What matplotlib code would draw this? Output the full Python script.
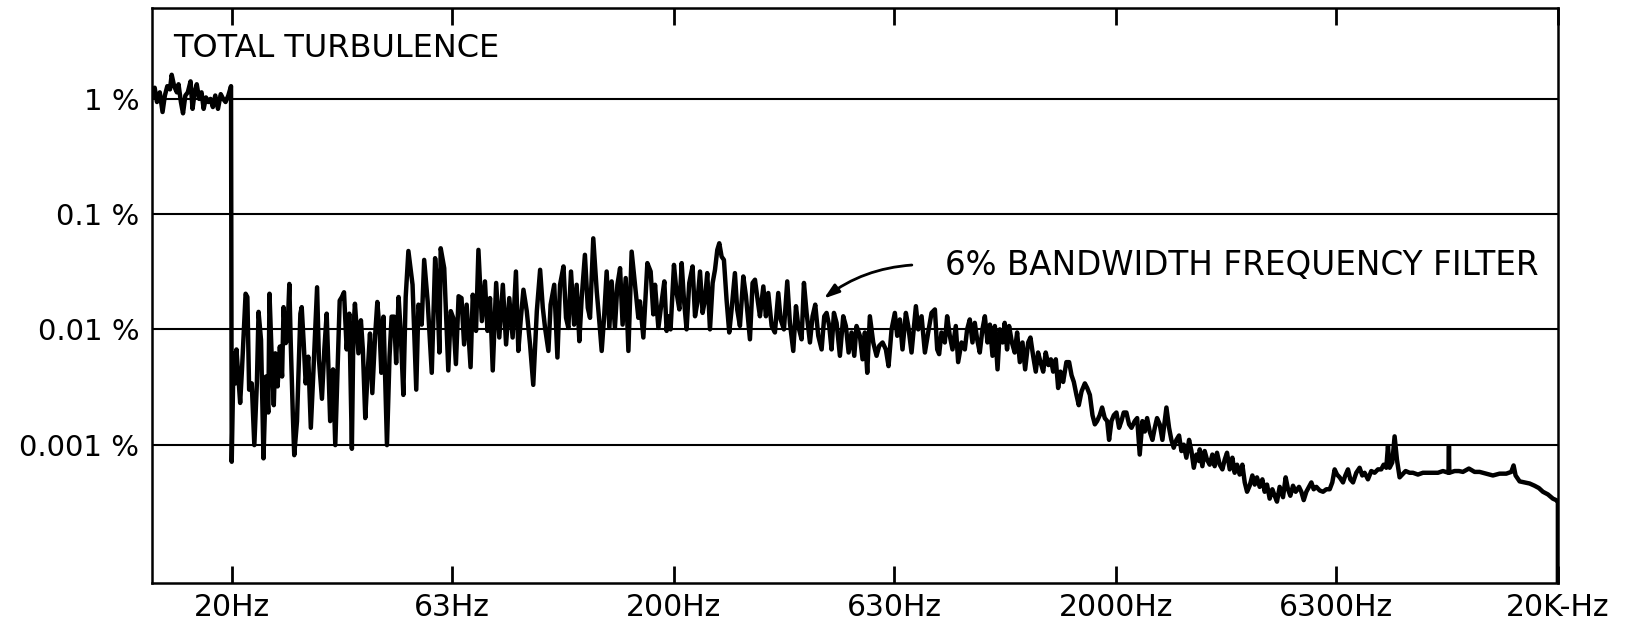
import matplotlib.pyplot as plt
import numpy as np
from matplotlib.ticker import NullLocator

# total turbulence (unfiltered) trace
total_freq = [13.22, 13.39, 13.55, 13.75, 13.95, 14.12, 14.30, 14.50, 14.63, 14.82,
              15.03, 15.16, 15.35, 15.52, 15.71, 15.91, 16.14, 16.31, 16.49, 16.67,
              16.88, 17.09, 17.28, 17.49, 17.71, 17.91, 18.13, 18.36, 18.62, 18.89,
              19.13, 19.37, 19.65, 19.93]
total_pct = [1.07, 1.25, 0.94, 1.14, 0.77, 1.07, 1.29, 1.21, 1.62, 1.29,
             1.14, 1.34, 0.94, 0.75, 1.07, 1.14, 1.42, 0.82, 1.14, 1.34,
             1.00, 1.14, 0.82, 1.03, 0.94, 1.00, 0.85, 1.07, 0.82, 1.10,
             1.00, 0.94, 1.07, 1.29]

# 6% bandwidth filter sweep, one pair of lists per stretch of the chart
band1_freq = [20.0, 20.2, 20.4, 20.5, 20.9, 21.1, 21.5, 21.7, 21.9, 22.2,
              22.5, 22.8, 23.0, 23.3, 23.6, 23.9, 24.2, 24.35, 24.6, 24.9,
              25.1, 25.4, 25.7, 26.0, 26.2, 26.5, 26.7, 27.0, 27.2, 27.5,
              27.7, 28.1, 28.3, 28.6, 28.8, 29.1, 29.4, 29.8, 30.2, 30.6,
              31.2, 31.5, 32.0, 32.4, 32.8, 33.1, 33.4, 33.9, 34.3, 34.7,
              35.1, 35.5, 35.9, 36.4, 36.9, 37.4, 37.7, 38.0, 38.7, 39.2,
              39.6, 40.1, 40.6, 41.1, 41.6, 42.2, 42.7, 43.2, 43.6, 44.1,
              44.9, 45.5, 46.0, 46.6, 47.1, 47.7, 48.2, 48.9, 49.5, 50.2]
band1_pct = [0.00071, 0.0062, 0.0034, 0.0067, 0.0023, 0.0045, 0.0204, 0.0191, 0.0030, 0.0034,
             0.00099, 0.0034, 0.0142, 0.0081, 0.00076, 0.0039, 0.0019, 0.0204, 0.0067, 0.0022,
             0.0062, 0.0032, 0.0071, 0.0039, 0.0156, 0.0076, 0.0081, 0.0248, 0.0076, 0.0018,
             0.00081, 0.0016, 0.0039, 0.0137, 0.0156, 0.0076, 0.0034, 0.0058, 0.0014, 0.0042,
             0.0232, 0.0055, 0.0025, 0.0067, 0.0137, 0.0045, 0.0016, 0.0045, 0.00099, 0.0042,
             0.0178, 0.0191, 0.0210, 0.0067, 0.0137, 0.00092, 0.0099, 0.0167, 0.0062, 0.0120,
             0.0067, 0.0017, 0.0042, 0.0092, 0.0028, 0.0087, 0.0173, 0.0099, 0.0042, 0.0129,
             0.00099, 0.0058, 0.0129, 0.0129, 0.0051, 0.0191, 0.0099, 0.0027, 0.0191, 0.0479]

band2_freq = [51.3, 52.3, 52.9, 53.8, 54.5, 55.5, 56.7, 57.7, 58.3, 59.0,
              59.4, 60.5, 61.8, 62.6, 63.4, 64.3, 65.2, 66.2, 67.1, 68.0,
              69.4, 70.2, 71.4, 72.3, 73.6, 74.8, 75.8, 76.8, 77.9, 79.3,
              80.6, 82.1, 83.5, 84.9, 86.4, 87.9, 89.0, 90.2, 91.4, 93.0,
              94.6, 96.2, 98.0, 99.7, 101.1, 102.3, 104.1, 105.3, 107.3, 109.1,
              110.6, 112.6, 114.1, 115.5, 117.1, 119.0, 120.6, 122.3, 123.8, 125.9,
              127.8, 129.3, 131.5, 133.9, 135.7, 137.4, 139.1, 141.0, 143.0, 144.7,
              147.2, 149.1, 151.2, 153.2, 155.7, 157.9, 160.6, 163.4, 166.3, 167.7,
              170.7, 174.3, 177.3, 179.8, 181.4, 184.6, 187.8, 190.4, 192.7]
band2_pct = [0.0244, 0.0030, 0.0164, 0.0110, 0.0401, 0.0175, 0.0042, 0.0415, 0.0244, 0.0063,
             0.0506, 0.0340, 0.0044, 0.0144, 0.0126, 0.0050, 0.0194, 0.0187, 0.0074, 0.0164,
             0.0047, 0.0200, 0.0097, 0.0490, 0.0118, 0.0261, 0.0097, 0.0187, 0.0044, 0.0253,
             0.0085, 0.0244, 0.0074, 0.0187, 0.0085, 0.0318, 0.0065, 0.0126, 0.0221, 0.0144,
             0.0074, 0.0033, 0.0144, 0.0329, 0.0154, 0.0103, 0.0065, 0.0164, 0.0244, 0.0057,
             0.0244, 0.0352, 0.0126, 0.0103, 0.0318, 0.0110, 0.0244, 0.0079, 0.0187, 0.0444,
             0.0154, 0.0126, 0.0617, 0.0214, 0.0118, 0.0065, 0.0126, 0.0318, 0.0103, 0.0261,
             0.0103, 0.0244, 0.0340, 0.0110, 0.0279, 0.0065, 0.0473, 0.0244, 0.0126, 0.0175,
             0.0085, 0.0376, 0.0318, 0.0135, 0.0244, 0.0103, 0.0175, 0.0261, 0.0097]

band3_freq = [194.4, 196.7, 200.2, 203.0, 205.9, 208.4, 210.9, 213.8, 216.8, 220.6,
              223.4, 226.1, 229.3, 232.4, 235.3, 238.1, 241.5, 244.9, 247.9, 250.9,
              253.5, 256.6, 259.7, 263.3, 267.0, 270.3, 275.0, 278.3, 282.3, 287.3,
              291.3, 297.4, 301.5, 305.3, 309.5, 313.3, 318.9, 323.2, 327.2, 333.0,
              338.7, 344.7, 348.9, 355.0, 361.2, 366.2, 372.7, 378.0, 382.5, 389.2,
              394.0, 399.5, 406.5, 412.1, 417.9, 424.5, 432.0, 438.0, 443.3, 449.5,
              454.9, 460.6, 467.0, 475.2, 483.5, 490.2, 497.2, 504.9, 512.1, 518.2,
              527.3, 534.7, 541.2, 547.9, 555.4, 565.2, 575.1, 583.2, 593.4, 603.7,
              612.2, 621.9, 632.6, 640.5, 649.4, 658.3, 670.0, 678.3, 690.1, 705.9,
              714.5, 727.1, 739.8, 752.6, 765.8, 779.3, 788.8]
band3_pct = [0.0130, 0.0100, 0.0363, 0.0207, 0.0149, 0.0376, 0.0181, 0.0100, 0.0253, 0.0352,
             0.0130, 0.0170, 0.0318, 0.0139, 0.0181, 0.0308, 0.0100, 0.0253, 0.0329, 0.0490,
             0.0559, 0.0428, 0.0401, 0.0181, 0.0094, 0.0149, 0.0308, 0.0149, 0.0107, 0.0288,
             0.0194, 0.0082, 0.0253, 0.0270, 0.0181, 0.0130, 0.0236, 0.0130, 0.0207, 0.0107,
             0.0094, 0.0207, 0.0122, 0.0100, 0.0261, 0.0114, 0.0065, 0.0159, 0.0107, 0.0082,
             0.0253, 0.0139, 0.0077, 0.0130, 0.0164, 0.0088, 0.0067, 0.0130, 0.0139, 0.0107,
             0.0067, 0.0139, 0.0114, 0.0059, 0.0130, 0.0107, 0.0063, 0.0094, 0.0059, 0.0107,
             0.0088, 0.0055, 0.0094, 0.0042, 0.0130, 0.0077, 0.0059, 0.0072, 0.0077, 0.0067,
             0.0048, 0.0100, 0.0139, 0.0088, 0.0122, 0.0067, 0.0139, 0.0107, 0.0063, 0.0159,
             0.0100, 0.0130, 0.0063, 0.0094, 0.0139, 0.0149, 0.0067]

band4_freq = [796.8, 806.5, 820.6, 830.7, 842.3, 854.1, 869.0, 879.7, 895.1, 910.8,
              921.8, 934.7, 947.8, 959.3, 971.2, 984.6, 998.3, 1011, 1025, 1038,
              1052, 1065, 1080, 1093, 1109, 1121, 1135, 1147, 1164, 1181,
              1196, 1213, 1230, 1247, 1267, 1282, 1300, 1318, 1334, 1351,
              1370, 1388, 1408, 1426, 1443, 1463, 1481, 1499, 1520, 1546,
              1568, 1588, 1607, 1629, 1649, 1673, 1702, 1723, 1747, 1771,
              1793, 1814, 1839, 1862, 1888, 1912, 1931, 1955, 1979, 2006,
              2034, 2059, 2084, 2113, 2143, 2170, 2207, 2235, 2265, 2297,
              2326, 2354, 2386, 2420, 2450, 2479, 2514, 2549, 2580, 2603,
              2639, 2671, 2704, 2742, 2780, 2815, 2849, 2888, 2929, 2965,
              3002, 3043, 3086]
band4_pct = [0.0061, 0.0094, 0.0077, 0.0130, 0.0088, 0.0067, 0.0107, 0.0052, 0.0077, 0.0067,
             0.0100, 0.0122, 0.0077, 0.0114, 0.0082, 0.0063, 0.0100, 0.0130, 0.0077, 0.0110,
             0.0059, 0.0107, 0.0045, 0.0100, 0.0077, 0.0114, 0.0067, 0.0107, 0.0077, 0.0063,
             0.0094, 0.0052, 0.0077, 0.0045, 0.0077, 0.0085, 0.0059, 0.0043, 0.0063, 0.0052,
             0.0043, 0.0063, 0.0049, 0.0055, 0.0043, 0.0055, 0.0031, 0.0043, 0.0035, 0.0052,
             0.0052, 0.0040, 0.0035, 0.0027, 0.0022, 0.0029, 0.0034, 0.0031, 0.0027, 0.0018,
             0.0015, 0.0016, 0.0018, 0.0021, 0.0017, 0.0016, 0.0011, 0.0016, 0.0018, 0.0019,
             0.0014, 0.0016, 0.0019, 0.0019, 0.0015, 0.0014, 0.0016, 0.0017, 0.00082, 0.0016,
             0.0013, 0.0017, 0.0013, 0.0011, 0.0014, 0.0017, 0.0015, 0.0011, 0.0016, 0.0021,
             0.0014, 0.0011, 0.00094, 0.0011, 0.0012, 0.00088, 0.0010, 0.00077, 0.0011, 0.00088,
             0.00063, 0.00082, 0.00072]

band5_freq = [3096, 3139, 3177, 3216, 3261, 3307, 3347, 3388, 3436, 3484,
              3526, 3569, 3620, 3670, 3714, 3761, 3812, 3866, 3914, 3962,
              4016, 4073, 4123, 4172, 4231, 4291, 4342, 4396, 4457, 4519,
              4575, 4630, 4695, 4778, 4844, 4904, 4963, 5033, 5104, 5193,
              5256, 5322, 5395, 5471, 5538, 5606, 5684, 5784, 5885, 5987,
              6093, 6176, 6252, 6330, 6418, 6530, 6610, 6702, 6784, 6880,
              6998, 7121, 7220, 7308, 7436, 7567, 7699, 7834, 7970, 8069,
              8182, 8253, 8324, 8440, 8544, 8649, 8770, 8892, 9047, 9238,
              9401, 9648, 9902, 10164, 10432, 10708, 10990, 11312, 11340, 11361,
              11679, 11947]
band5_pct = [0.00091, 0.00065, 0.00088, 0.00074, 0.00067, 0.00082, 0.00065, 0.00085, 0.00067, 0.00061,
             0.00074, 0.00085, 0.00061, 0.00077, 0.00057, 0.00067, 0.00055, 0.00067, 0.00047, 0.00039,
             0.00044, 0.00054, 0.00045, 0.00052, 0.00043, 0.00050, 0.00039, 0.00045, 0.00034, 0.00041,
             0.00036, 0.00032, 0.00043, 0.00035, 0.00052, 0.00041, 0.00036, 0.00044, 0.00039, 0.00043,
             0.00039, 0.00033, 0.00039, 0.00043, 0.00047, 0.00041, 0.00043, 0.00040, 0.00039, 0.00041,
             0.00041, 0.00047, 0.00061, 0.00055, 0.00052, 0.00047, 0.00054, 0.00061, 0.00050, 0.00047,
             0.00057, 0.00063, 0.00054, 0.00057, 0.00050, 0.00059, 0.00057, 0.00061, 0.00061, 0.00067,
             0.00063, 0.00097, 0.00063, 0.00070, 0.00118, 0.00074, 0.00052, 0.00055, 0.00059, 0.00057,
             0.00057, 0.00055, 0.00057, 0.00057, 0.00057, 0.00057, 0.00059, 0.00057, 0.00097, 0.00057,
             0.00059, 0.00059]

band6_freq = [12194, 12582, 12958, 13301, 13772, 14257, 14762, 15282, 15687, 15879,
              16045, 16385, 16816, 17260, 17711, 18116, 18499, 18986, 19486, 19822,
              20000, 20000]
band6_pct = [0.00058, 0.00062, 0.00058, 0.00058, 0.00056, 0.00054, 0.00056, 0.00056, 0.00058, 0.00066,
             0.00054, 0.00048, 0.00047, 0.00046, 0.00044, 0.00042, 0.00039, 0.00037, 0.00034, 0.00033,
             0.00032, 0.000063]

x_ticks = [20, 63, 200, 630, 2000, 6300, 20000]
x_labels = ["20Hz", "63Hz", "200Hz", "630Hz", "2000Hz", "6300Hz", "20K-Hz"]
y_ticks = [1, 0.1, 0.01, 0.001]
y_labels = ["1 %", "0.1 %", "0.01 %", "0.001 %"]

freq = np.concatenate([total_freq, band1_freq, band2_freq, band3_freq,
                       band4_freq, band5_freq, band6_freq])
pct = np.concatenate([total_pct, band1_pct, band2_pct, band3_pct,
                      band4_pct, band5_pct, band6_pct])

fig = plt.figure(figsize=(16.25, 6.3), dpi=100)
ax = fig.add_axes([0.0935, 0.0746, 0.8652, 0.9127])
ax.set_xscale('log')
ax.set_yscale('log')
ax.set_xlim(13.2, 20000)
ax.set_ylim(6.3e-5, 6.15)

for v in y_ticks:
    ax.axhline(v, color='black', lw=1.5, zorder=1)

# pen trace is heavy on the original chart
ax.plot(freq, pct, color='black', lw=3.2, solid_joinstyle='round', zorder=3)

ax.set_xticks(x_ticks)
ax.set_xticklabels(x_labels)
ax.set_yticks(y_ticks)
ax.set_yticklabels(y_labels)
ax.xaxis.set_minor_locator(NullLocator())
ax.yaxis.set_minor_locator(NullLocator())
ax.tick_params(axis='x', direction='in', length=12, width=2, top=True,
               labelsize=21.5, pad=7)
ax.tick_params(axis='y', length=0, labelsize=21, pad=9)
for s in ax.spines.values():
    s.set_linewidth(1.8)

ax.text(0.015, 0.929, "TOTAL TURBULENCE", transform=ax.transAxes,
        fontsize=23, ha='left', va='center')
ax.text(0.564, 0.553, "6% BANDWIDTH FREQUENCY FILTER", transform=ax.transAxes,
        fontsize=23.5, ha='left', va='center')
ax.annotate('', xy=(0.478, 0.4948), xytext=(0.5405, 0.553),
            xycoords='axes fraction', textcoords='axes fraction',
            arrowprops=dict(arrowstyle='-|>,head_length=0.9,head_width=0.3',
                            color='black', lw=2, shrinkA=0, shrinkB=0,
                            connectionstyle='arc3,rad=0.15'))

fig.savefig('out.png', dpi=100)
